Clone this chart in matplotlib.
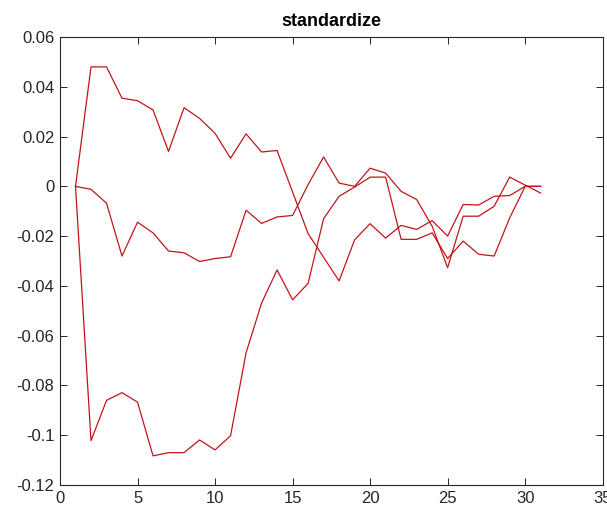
import numpy as np
import matplotlib
matplotlib.use("Agg")
import matplotlib.pyplot as plt

# three response series, x = 1..31
x = list(range(1, 32))

upper = [0, 0.048, 0.048, 0.0354, 0.0344, 0.0307, 0.014, 0.0316, 0.0273, 0.0213,
         0.0113, 0.0211, 0.0138, 0.0144, -0.0023, -0.019, -0.0285, -0.038, -0.0215, -0.015,
         -0.0208, -0.0157, -0.0173, -0.0138, -0.020, -0.0073, -0.0075, -0.004, -0.0037, 0.0,
         0.0]

middle = [0, -0.0012, -0.0068, -0.028, -0.0144, -0.0187, -0.026, -0.0267, -0.0302, -0.029,
          -0.0283, -0.0096, -0.0149, -0.0123, -0.0117, 0.0007, 0.0118, 0.0013, 0.0, 0.0073,
          0.0053, -0.002, -0.0053, -0.016, -0.0327, -0.012, -0.012, -0.008, 0.0037, 0.0005,
          -0.0027]

lower = [0, -0.1022, -0.086, -0.0829, -0.0867, -0.1083, -0.107, -0.107, -0.1019, -0.1059,
         -0.1002, -0.0669, -0.0469, -0.0336, -0.0456, -0.039, -0.013, -0.004, -0.0003, 0.0037,
         0.0037, -0.0213, -0.0213, -0.0187, -0.029, -0.022, -0.0273, -0.028, -0.0127, 0.0,
         0.0]

xticks = [0, 5, 10, 15, 20, 25, 30, 35]
yticks = [-0.12, -0.1, -0.08, -0.06, -0.04, -0.02, 0, 0.02, 0.04, 0.06]
ytick_labels = ["-0.12", "-0.1", "-0.08", "-0.06", "-0.04", "-0.02", "0", "0.02", "0.04", "0.06"]

plt.rcParams["font.family"] = ["Liberation Sans", "DejaVu Sans"]

fig = plt.figure(figsize=(6.07, 5.14), dpi=100)
ax = fig.add_axes([60 / 607, 29 / 514, 542.7 / 607, 448 / 514])

for series in (upper, middle, lower):
    ax.plot(x, series, color="#c0161a", lw=0.9)

ax.set_xlim(0, 35)
ax.set_ylim(-0.12, 0.06)
ax.set_xticks(xticks)
ax.set_yticks(yticks)
ax.set_yticklabels(ytick_labels)

gray = "#262626"
for s in ax.spines.values():
    s.set_color(gray)
    s.set_linewidth(0.8)
ax.tick_params(direction="in", length=5, width=0.7, color=gray, labelcolor=gray,
               labelsize=12, top=True, right=True, pad=4)
ax.set_title("standardize", fontsize=13, fontweight="bold", pad=8)

fig.savefig("out.png", dpi=100)
